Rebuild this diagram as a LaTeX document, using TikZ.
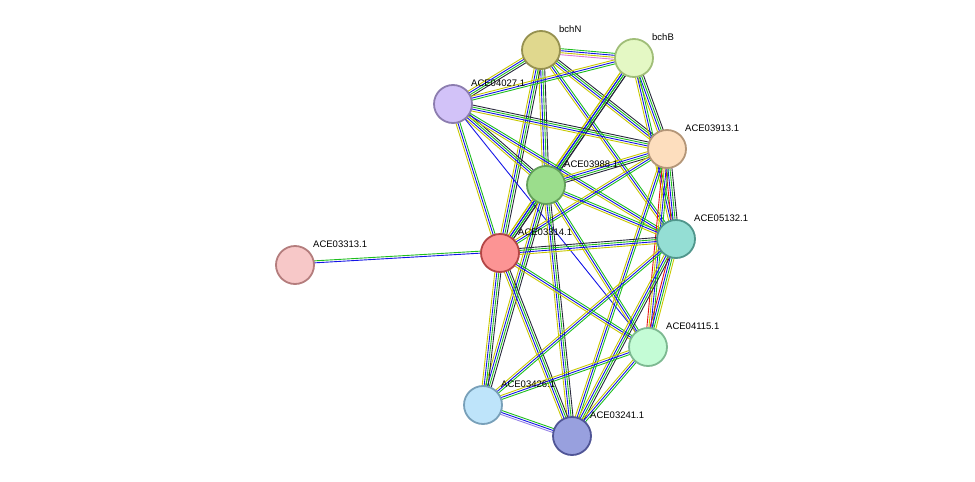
\documentclass[tikz,border=0pt]{standalone}
\usepackage{fontspec}
\setmainfont{Liberation Sans}
\usetikzlibrary{calc}
\definecolor{cy}{RGB}{200,200,0}
\definecolor{cb}{RGB}{20,20,230}
\definecolor{cg}{RGB}{30,190,30}
\definecolor{ck}{RGB}{40,40,60}
\definecolor{cr}{RGB}{230,20,20}
\definecolor{cm}{RGB}{220,120,220}
\definecolor{cv}{RGB}{150,130,230}
\tikzset{
  prot/.style={circle, minimum size=38pt, inner sep=0pt, line width=1.8pt},
  lbl/.style={font=\fontsize{9.5}{11}\selectfont, anchor=west, inner sep=0pt},
  link/.style={line width=0.9pt}
}
% one connector of several coloured strands side by side
\newcommand{\strands}[3]{%
  \foreach \c [count=\i] in {#3}
    \draw[link, draw=\c] ($(#1)!{(\i-2.5)*2pt}!90:(#2)$) -- ($(#2)!{(\i-2.5)*2pt}!-90:(#1)$);}
\begin{document}
\begin{tikzpicture}[x=1pt, y=-1pt]
\useasboundingbox (0,0) rectangle (975,482);

% coordinates of the proteins
\coordinate (bchN) at (541,50);
\coordinate (bchB) at (634,58);
\coordinate (a4027) at (453,104);
\coordinate (a3913) at (667,149);
\coordinate (a3988) at (546,185);
\coordinate (a5132) at (676,239);
\coordinate (a3314) at (500,253);
\coordinate (a3313) at (295,265);
\coordinate (a4115) at (648,347);
\coordinate (a3426) at (483,405);
\coordinate (a3241) at (572,436);

\strands{bchN}{bchB}{cm,cy,cb,cg}
\strands{bchN}{a4027}{cy,cb,cg,ck}
\strands{bchN}{a3913}{cy,cb,cg,ck}
\strands{bchN}{a3988}{cy,cb,cg,ck}
\strands{bchN}{a3314}{cy,cb,cg,ck}
\strands{bchN}{a5132}{cy,cb,cg}
\strands{bchB}{a4027}{cy,cb,cg}
\strands{bchB}{a3913}{cy,cb,cg,ck}
\strands{bchB}{a3988}{cy,cb,cg,ck}
\strands{bchB}{a3314}{cy,cb,cg,ck}
\strands{bchB}{a5132}{cy,cb,cg}
\strands{a4027}{a3913}{cy,cb,cg,ck}
\strands{a4027}{a3988}{cy,cb,cg,ck}
\strands{a4027}{a3314}{cy,cb,cg}
\strands{a4027}{a5132}{cy,cb,cg}
\draw[link, cb] (a4027) -- (a4115);
\strands{a3913}{a3988}{cy,cb,cg,ck}
\strands{a3913}{a3314}{cy,cb,cg}
\strands{a3913}{a5132}{cr,cb,cg,ck}
\strands{a3913}{a4115}{cr,cy,cb,cg}
\strands{a3913}{a3241}{cy,cb,cg}
\strands{a3988}{a3314}{cy,cb,cg,ck}
\strands{a3988}{a5132}{cy,cb,cg}
\strands{a3988}{a4115}{cy,cb,cg}
\strands{a3988}{a3426}{cy,cb,cg,ck}
\strands{a3988}{a3241}{cy,cb,cg,ck}
\strands{a3314}{a3313}{cg,cb}
\strands{a3314}{a5132}{cy,cb,cg,ck}
\strands{a3314}{a4115}{cy,cb,cg}
\strands{a3314}{a3426}{cy,cb,cg,ck}
\strands{a3314}{a3241}{cy,cb,cg,ck}
\strands{a5132}{a4115}{cr,cb,cg,cy}
\strands{a5132}{a3426}{cy,cb,cg}
\strands{a5132}{a3241}{cy,cb,cg,ck}
\strands{a4115}{a3426}{cy,cb,cg}
\strands{a4115}{a3241}{cy,cb,cg}
\strands{a3426}{a3241}{cv,cb,cg}

% proteins
\node[prot, fill={rgb,255:red,224;green,216;blue,142}, draw={rgb,255:red,150;green,145;blue,80}] (nN) at (bchN) {};
\node[prot, fill={rgb,255:red,228;green,248;blue,196}, draw={rgb,255:red,160;green,190;blue,120}] (nB) at (bchB) {};
\node[prot, fill={rgb,255:red,210;green,194;blue,248}, draw={rgb,255:red,140;green,125;blue,175}] (n4027) at (a4027) {};
\node[prot, fill={rgb,255:red,253;green,222;blue,190}, draw={rgb,255:red,180;green,150;blue,120}] (n3913) at (a3913) {};
\node[prot, fill={rgb,255:red,155;green,221;blue,140}, draw={rgb,255:red,100;green,160;blue,90}] (n3988) at (a3988) {};
\node[prot, fill={rgb,255:red,148;green,222;blue,212}, draw={rgb,255:red,80;green,150;blue,140}] (n5132) at (a5132) {};
\node[prot, fill={rgb,255:red,252;green,148;blue,148}, draw={rgb,255:red,180;green,70;blue,70}] (n3314) at (a3314) {};
\node[prot, fill={rgb,255:red,247;green,200;blue,200}, draw={rgb,255:red,180;green,125;blue,125}] (n3313) at (a3313) {};
\node[prot, fill={rgb,255:red,196;green,252;blue,214}, draw={rgb,255:red,125;green,185;blue,145}] (n4115) at (a4115) {};
\node[prot, fill={rgb,255:red,190;green,228;blue,250}, draw={rgb,255:red,120;green,160;blue,185}] (n3426) at (a3426) {};
\node[prot, fill={rgb,255:red,152;green,160;blue,222}, draw={rgb,255:red,80;green,85;blue,150}] (n3241) at (a3241) {};

% labels
\foreach \p/\t in {bchN/bchN, bchB/bchB, a4027/ACE04027.1, a3913/ACE03913.1,
  a3988/ACE03988.1, a5132/ACE05132.1, a3314/ACE03314.1, a3313/ACE03313.1,
  a4115/ACE04115.1, a3426/ACE03426.1, a3241/ACE03241.1}
  \node[lbl] (l\p) at ($(\p)+(18,-21)$) {\t};
\end{tikzpicture}
\end{document}
